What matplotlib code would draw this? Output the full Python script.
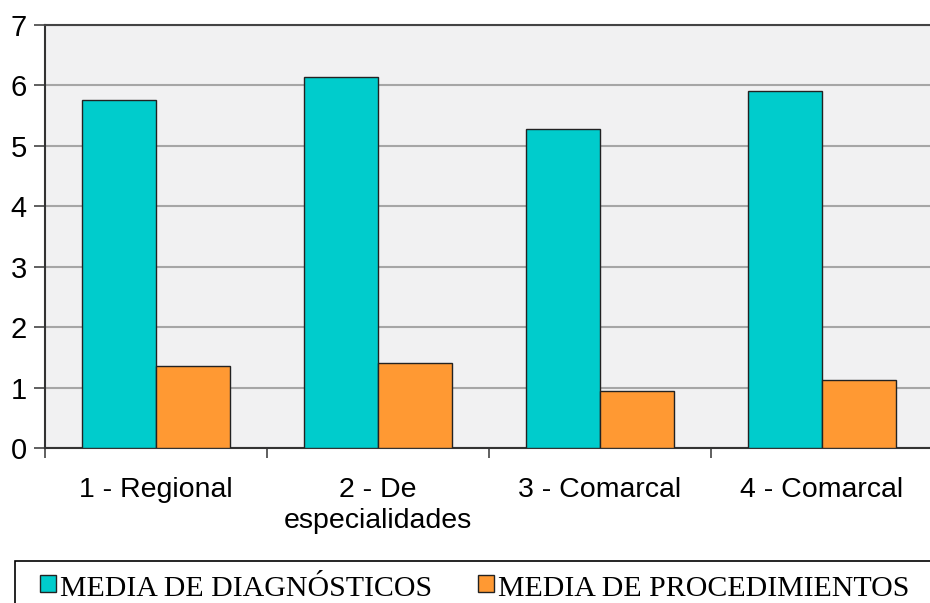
import matplotlib.pyplot as plt
import numpy as np
from matplotlib.patches import Rectangle

# Chart data
categories = ['1 - Regional', '2 - De\nespecialidades', '3 - Comarcal', '4 - Comarcal']
media_diagnosticos = [5.76, 6.14, 5.28, 5.91]
media_procedimientos = [1.36, 1.41, 0.94, 1.13]
series_labels = ['MEDIA DE DIAGNÓSTICOS', 'MEDIA DE PROCEDIMIENTOS']
series_colors = ['#00cccc', '#ff9933']

W, H = 930, 603
fig = plt.figure(figsize=(W / 100, H / 100), dpi=100)
# axes runs a little past the right edge, as in the original
ax = fig.add_axes([45 / W, 155 / H, 888 / W, 423 / H])
ax.set_facecolor('#f1f1f2')

x = np.arange(len(categories))
w = 1 / 3
ax.bar(x - w / 2, media_diagnosticos, w, color=series_colors[0], edgecolor='#222222', linewidth=1, zorder=3)
ax.bar(x + w / 2, media_procedimientos, w, color=series_colors[1], edgecolor='#222222', linewidth=1, zorder=3)

ax.set_xlim(-0.5, len(categories) - 0.5)
ax.set_ylim(0, 7)
ax.set_yticks(range(8))
ax.yaxis.grid(True, color='#a6a6a6', linewidth=1.5, zorder=0)

# category boundaries get the tick marks, labels sit in the middle
bounds = np.arange(len(categories) + 1) - 0.5
ax.set_xticks(bounds, labels=[''] * len(bounds))
ax.set_xticks(x, labels=categories, minor=True)
ax.tick_params(axis='x', which='minor', length=0, pad=21, labelsize=20.5)
ax.tick_params(axis='x', which='major', length=7, width=1.2, color='#444444', direction='out')
ax.tick_params(axis='y', length=8, width=1.2, color='#444444', direction='out', pad=5, labelsize=21)
for lbl in ax.get_xticklabels(minor=True) + ax.get_yticklabels():
    lbl.set_fontfamily('Liberation Sans')
for lbl in ax.get_xticklabels(minor=True):
    lbl.set_linespacing(1.25)

for side in ['top', 'right']:
    ax.spines[side].set_visible(False)
for side in ['left', 'bottom']:
    ax.spines[side].set_color('#333333')
    ax.spines[side].set_linewidth(1.5)
ax.axhline(7, color='#444444', linewidth=1.5, zorder=4, clip_on=False)

# legend box at the bottom, cut off on the right and bottom
fig.patches.append(Rectangle((15 / W, 1 - 640 / H), 960 / W, 79 / H, transform=fig.transFigure,
                             facecolor='white', edgecolor='black', linewidth=1.2))
for px, label, col in zip([40, 478], series_labels, series_colors):
    fig.patches.append(Rectangle((px / W, 1 - 592 / H), 16 / W, 17 / H, transform=fig.transFigure,
                                 facecolor=col, edgecolor='#222222', linewidth=1))
    fig.text((px + 20) / W, 1 - 596 / H, label, fontfamily='Liberation Serif', fontsize=21.5,
             va='baseline', ha='left')

plt.savefig('out.png', dpi=100)
